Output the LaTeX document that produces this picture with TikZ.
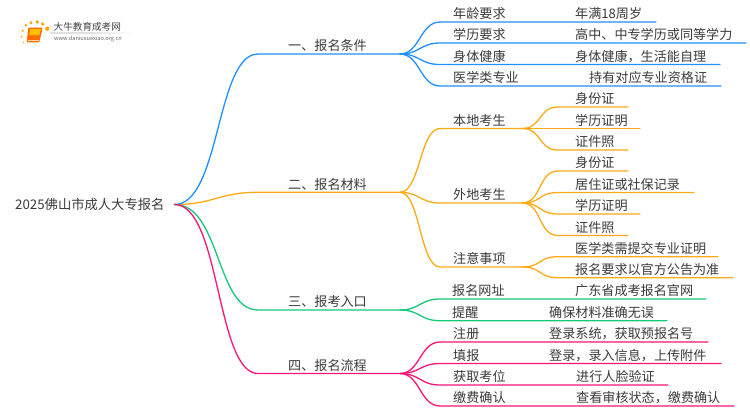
\documentclass[tikz,border=0pt]{standalone}
\usepackage{fontspec}
\setmainfont{Noto Sans CJK SC}
\definecolor{cblue}{HTML}{1E90FF}
\definecolor{corange}{HTML}{FFAA14}
\definecolor{cgreen}{HTML}{14C878}
\definecolor{cpink}{HTML}{FF1478}
\definecolor{ctext}{HTML}{3A3A3A}
% #1 name, #2 colour, #3 from, #4 curve-end x, #5 y, #6 line-end x
\newcommand\mmlink[6]{%
  \coordinate (#1-s) at (#4,#5);
  \coordinate (#1-e) at (#6,#5);
  \draw[link,#2] (#3) .. controls +(20,0) and +(-20,0) .. (#1-s) -- (#1-e);
}
% #1 name, #2 x, #3 line y, #4 text
\newcommand\mmtext[4]{%
  \node[lab] (#1) at (#2,#3-3.2) {#4};
}
\begin{document}
\begin{tikzpicture}[x=1pt,y=-1pt,
  link/.style={line width=1.3pt,line cap=round},
  lab/.style={anchor=base west,inner sep=0pt,font=\fontsize{13.1pt}{13.1pt}\selectfont,text=ctext}]
\useasboundingbox (0,0) rectangle (750,410);
% logo
\foreach \px/\py/\pr in {23.3/42.3/0.8,21.7/36.7/1,22.7/30.7/1.1,26/25.3/1.4,31/22.7/1.7,37.3/22/1.9,42.7/24/1.8,47.3/28.7/2.1}
  \fill[orange!70!yellow] (\px,\py) circle (\pr);
\fill[orange!85!red,rounded corners=1pt] (28.3,27.7) -- (42.7,27.7) -- (39.3,42.3) -- (26.7,42.3) -- cycle;
\fill[orange!50!yellow] (30.2,29.2) -- (41,29.2) -- (39.2,35) -- (29.2,35) -- cycle;
\draw[white!70!orange,line width=0.5pt] (27.6,40.4) -- (39,40.4);
\node[inner sep=0pt,anchor=west,font=\fontsize{9.6pt}{10pt}\selectfont,text=black!75] (logoa) at (53.5,27) {大牛教育成考网};
\node[inner sep=0pt,anchor=west,font=\fontsize{5.6pt}{6pt}\selectfont,text=black!60] (logob) at (54,38.7) {www.daniuxuexiao.org.cn};
\shade[left color=black!12,right color=white,middle color=black!12] (50,32.8) rectangle (133,33.4);
% root
\node[lab,font=\fontsize{13.3pt}{13.3pt}\selectfont] (root) at (15,209) {2025佛山市成人大专报名};
\coordinate (r) at (174.5,204.5);
% level 1
\coordinate (b1) at (400,54);
\coordinate (b2) at (400,192.3);
\coordinate (b3) at (400,310);
\coordinate (b4) at (400,373.5);
\draw[link,corange] (r) .. controls +(40,0) and +(-40,0) .. (258,192.3) -- (b2);
\draw[link,cblue] (r) .. controls +(46,0) and +(-42,0) .. (258,54) -- (b1);
\draw[link,cgreen] (r) .. controls +(46,0) and +(-42,0) .. (258,310) -- (b3);
\draw[link,cpink] (r) .. controls +(46,0) and +(-42,0) .. (258,373.5) -- (b4);
\mmtext{t1}{288}{54}{一、报名条件}
\mmtext{t2}{288}{192.3}{二、报名材料}
\mmtext{t3}{288}{310}{三、报考入口}
\mmtext{t4}{288}{373.5}{四、报名流程}
% branch 1
\mmlink{a1}{cblue}{b1}{440}{22}{656}
\mmlink{a2}{cblue}{b1}{440}{43}{746}
\mmlink{a3}{cblue}{b1}{440}{64.5}{720}
\mmlink{a4}{cblue}{b1}{440}{86}{721}
\mmtext{ta1}{453}{22}{年龄要求}
\mmtext{ta2}{453}{43}{学历要求}
\mmtext{ta3}{453}{64.5}{身体健康}
\mmtext{ta4}{453}{86}{医学类专业}
\mmtext{la1}{575}{22}{年满18周岁}
\mmtext{la2}{575}{43}{高中、中专学历或同等学力}
\mmtext{la3}{575}{64.5}{身体健康，生活能自理}
\mmtext{la4}{589}{86}{持有对应专业资格证}
% branch 2
\mmlink{c1}{corange}{b2}{440}{128.5}{522}
\mmlink{c2}{corange}{b2}{440}{203}{522}
\mmlink{c3}{corange}{b2}{440}{267}{522}
\mmtext{tc1}{453}{128.5}{本地考生}
\mmtext{tc2}{453}{203}{外地考生}
\mmtext{tc3}{453}{267}{注意事项}
\mmlink{d1}{corange}{c1-e}{558}{107}{628}
\mmlink{d2}{corange}{c1-e}{558}{128.5}{640}
\mmlink{d3}{corange}{c1-e}{558}{150}{628}
\mmtext{ld1}{575}{107}{身份证}
\mmtext{ld2}{575}{128.5}{学历证明}
\mmtext{ld3}{575}{150}{证件照}
\mmlink{e1}{corange}{c2-e}{558}{171}{628}
\mmlink{e2}{corange}{c2-e}{558}{192.5}{694}
\mmlink{e3}{corange}{c2-e}{558}{214}{640}
\mmlink{e4}{corange}{c2-e}{558}{235.5}{628}
\mmtext{le1}{575}{171}{身份证}
\mmtext{le2}{575}{192.5}{居住证或社保记录}
\mmtext{le3}{575}{214}{学历证明}
\mmtext{le4}{575}{235.5}{证件照}
\mmlink{f1}{corange}{c3-e}{558}{256.7}{718}
\mmlink{f2}{corange}{c3-e}{558}{277.7}{733}
\mmtext{lf1}{575}{256.7}{医学类需提交专业证明}
\mmtext{lf2}{575}{277.7}{报名要求以官方公告为准}
% branch 3
\mmlink{g1}{cgreen}{b3}{440}{299}{706}
\mmlink{g2}{cgreen}{b3}{440}{320.7}{667}
\mmtext{tg1}{452}{299}{报名网址}
\mmtext{tg2}{452}{320.7}{提醒}
\mmtext{lg1}{575}{299}{广东省成考报名官网}
\mmtext{lg2}{549}{320.7}{确保材料准确无误}
% branch 4
\mmlink{h1}{cpink}{b4}{440}{342}{708}
\mmlink{h2}{cpink}{b4}{440}{363.5}{721}
\mmlink{h3}{cpink}{b4}{440}{385}{668}
\mmlink{h4}{cpink}{b4}{440}{406}{734}
\mmtext{th1}{453}{342}{注册}
\mmtext{th2}{453}{363.5}{填报}
\mmtext{th3}{453}{385}{获取考位}
\mmtext{th4}{453}{406}{缴费确认}
\mmtext{lh1}{549}{342}{登录系统，获取预报名号}
\mmtext{lh2}{549}{363.5}{登录，录入信息，上传附件}
\mmtext{lh3}{576}{385}{进行人脸验证}
\mmtext{lh4}{576}{406}{查看审核状态，缴费确认}
\end{tikzpicture}
\end{document}
